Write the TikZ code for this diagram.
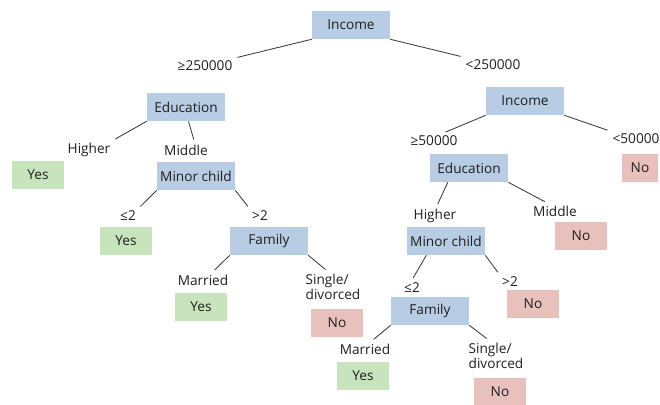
\documentclass[tikz,border=0pt]{standalone}
\usepackage{fontspec}
\setmainfont{Open Sans}
\usepackage{tikz}
\usetikzlibrary{positioning}
\definecolor{splitblue}{HTML}{B8CDE3}
\definecolor{leafgreen}{HTML}{C7E4BC}
\definecolor{leafred}{HTML}{E8C1BD}
\definecolor{inkgray}{HTML}{1F1F1F}
\definecolor{edgegray}{HTML}{3A3A3A}

\begin{document}
\begin{tikzpicture}[x=0.025cm,y=-0.025cm,
  font=\fontsize{9.7}{11}\selectfont,text=inkgray,
  split/.style={fill=splitblue,minimum width=1.95cm,minimum height=0.7cm,inner sep=0pt},
  yesleaf/.style={fill=leafgreen,minimum width=1.275cm,minimum height=0.7cm,inner sep=0pt},
  noleaf/.style={fill=leafred,minimum width=1.275cm,minimum height=0.7cm,inner sep=0pt},
  branch/.style={inner sep=2pt,align=left},
  link/.style={edgegray,line width=0.6pt,shorten >=1.5pt}]
\path[use as bounding box] (0,0) rectangle (660,405);

% Root split and its two branches
\node[split] (inc0) at (351,25) {Income};
\node[branch] (ge1) at (205,66) {≥250000};
\node[branch] (lt1) at (493,65) {<250000};
\draw[link] (inc0.south west) -- (ge1.north east);
\draw[link] (inc0.south east) -- (lt1.north west);

% Left subtree: high income
\node[split] (edu1) at (186,107) {Education};
\node[branch] (hi1) at (89,150) {Higher};
\node[branch] (mid1) at (186,150) {Middle};
\node[yesleaf] (yes1) at (38,175) {Yes};
\node[split] (mc1) at (196,176) {Minor child};
\node[branch] (le1) at (128,216) {≤2};
\node[branch] (gt1) at (260,216) {>2};
\node[yesleaf] (yes2) at (126,241) {Yes};
\node[split] (fam1) at (269,241) {Family};
\node[branch] (mar1) at (203,280) {Married};
\node[branch] (sd1) at (333,287) {Single/\\divorced};
\node[yesleaf] (yes3) at (201,307) {Yes};
\node[noleaf] (no1) at (337,323) {No};
\draw[link] (edu1.south west) -- (hi1.north east);
\draw[link] (edu1.-80) -- (mid1.45);
\draw[link] (mc1.south west) -- (le1.north east);
\draw[link] (mc1.south east) -- (gt1.north west);
\draw[link] (fam1.south west) -- (mar1.40);
\draw[link] (fam1.south east) -- (sd1.110);

% Right subtree: lower income
\node[split] (inc2) at (525,101) {Income};
\node[branch] (ge2) at (434,141) {≥50000};
\node[branch] (lt2) at (636,139) {<50000};
\node[noleaf,minimum width=0.9cm] (no2) at (640,168) {No};
\node[split] (edu2) at (469,168) {Education};
\node[branch] (hi2) at (435,216) {Higher};
\node[branch] (mid2) at (555,211) {Middle};
\node[noleaf] (no3) at (581,236) {No};
\node[split] (mc2) at (446,241) {Minor child};
\node[branch] (le2) at (412,288) {≤2};
\node[branch] (gt2) at (510,282) {>2};
\node[noleaf] (no4) at (533,304) {No};
\node[split] (fam2) at (430,311) {Family};
\node[branch] (mar2) at (365,349) {Married};
\node[branch] (sd2) at (496,356) {Single/\\divorced};
\node[yesleaf] (yes4) at (363,376) {Yes};
\node[noleaf] (no5) at (500,392) {No};
\draw[link] (inc2.south west) -- (ge2.40);
\draw[link] (inc2.south east) -- (lt2.north west);
\draw[link] (edu2.-146) -- (hi2.80);
\draw[link] (edu2.south east) -- (mid2.135);
\draw[link] (mc2.-144) -- (le2.north);
\draw[link] (mc2.south east) -- (gt2.north west);
\draw[link] (fam2.south west) -- (mar2.50);
\draw[link] (fam2.south east) -- (sd2.115);
\end{tikzpicture}
\end{document}
